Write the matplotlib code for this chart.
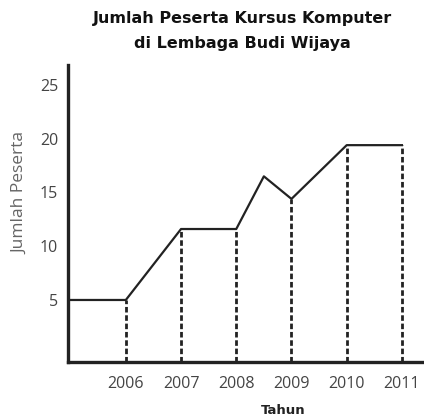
import matplotlib.pyplot as plt

# data
tahun = [2005, 2006, 2007, 2008, 2008.5, 2009, 2010, 2011]
peserta = [5, 5, 11.6, 11.6, 16.5, 14.4, 19.4, 19.4]
tahun_label = [2006, 2007, 2008, 2009, 2010, 2011]
y_ticks = [5, 10, 15, 20, 25]

fig = plt.figure(figsize=(4.24, 4.19), dpi=100)
ax = fig.add_axes([0.160, 0.136, 0.84, 0.709])

# dashed drop lines from each year down to the x-axis
for t in tahun_label:
    ax.plot([t, t], [-0.8, peserta[tahun.index(t)]], color='#222222',
            linewidth=2.0, linestyle=(0, (2.0, 1.0)), zorder=2)

ax.plot(tahun, peserta, color='#222222', linewidth=1.6, zorder=3)

ax.set_xlim(2004.95, 2011.4)
ax.set_ylim(-0.77, 26.86)

ax.set_xticks(tahun_label)
ax.set_xticklabels([str(t) for t in tahun_label], fontfamily='Open Sans',
                   fontsize=11.5, color='#444444')
ax.set_yticks(y_ticks)
ax.set_yticklabels([str(v) for v in y_ticks], fontfamily='Open Sans',
                   fontsize=11.5, color='#444444')
ax.tick_params(axis='x', length=0, pad=10)
ax.tick_params(axis='y', length=0, pad=7)

for side in ['top', 'right']:
    ax.spines[side].set_visible(False)
for side in ['left', 'bottom']:
    ax.spines[side].set_linewidth(2.4)
    ax.spines[side].set_color('#222222')

# y label sits a bit above the axis centre in the reference
fig.text(0.047, 0.539, 'Jumlah Peserta', rotation=90, ha='center',
         va='center', fontfamily='Open Sans', fontsize=12.5, color='#666666')

fig.text(0.571, 0.957, 'Jumlah Peserta Kursus Komputer', ha='center',
         va='center', fontsize=11.5, fontweight='bold', color='#111111')
fig.text(0.571, 0.897, 'di Lembaga Budi Wijaya', ha='center',
         va='center', fontsize=11.5, fontweight='bold', color='#111111')
fig.text(0.667, 0.021, 'Tahun', ha='center', va='center', fontsize=9.5,
         fontweight='bold', color='#222222')

fig.savefig('out.png', dpi=100)
